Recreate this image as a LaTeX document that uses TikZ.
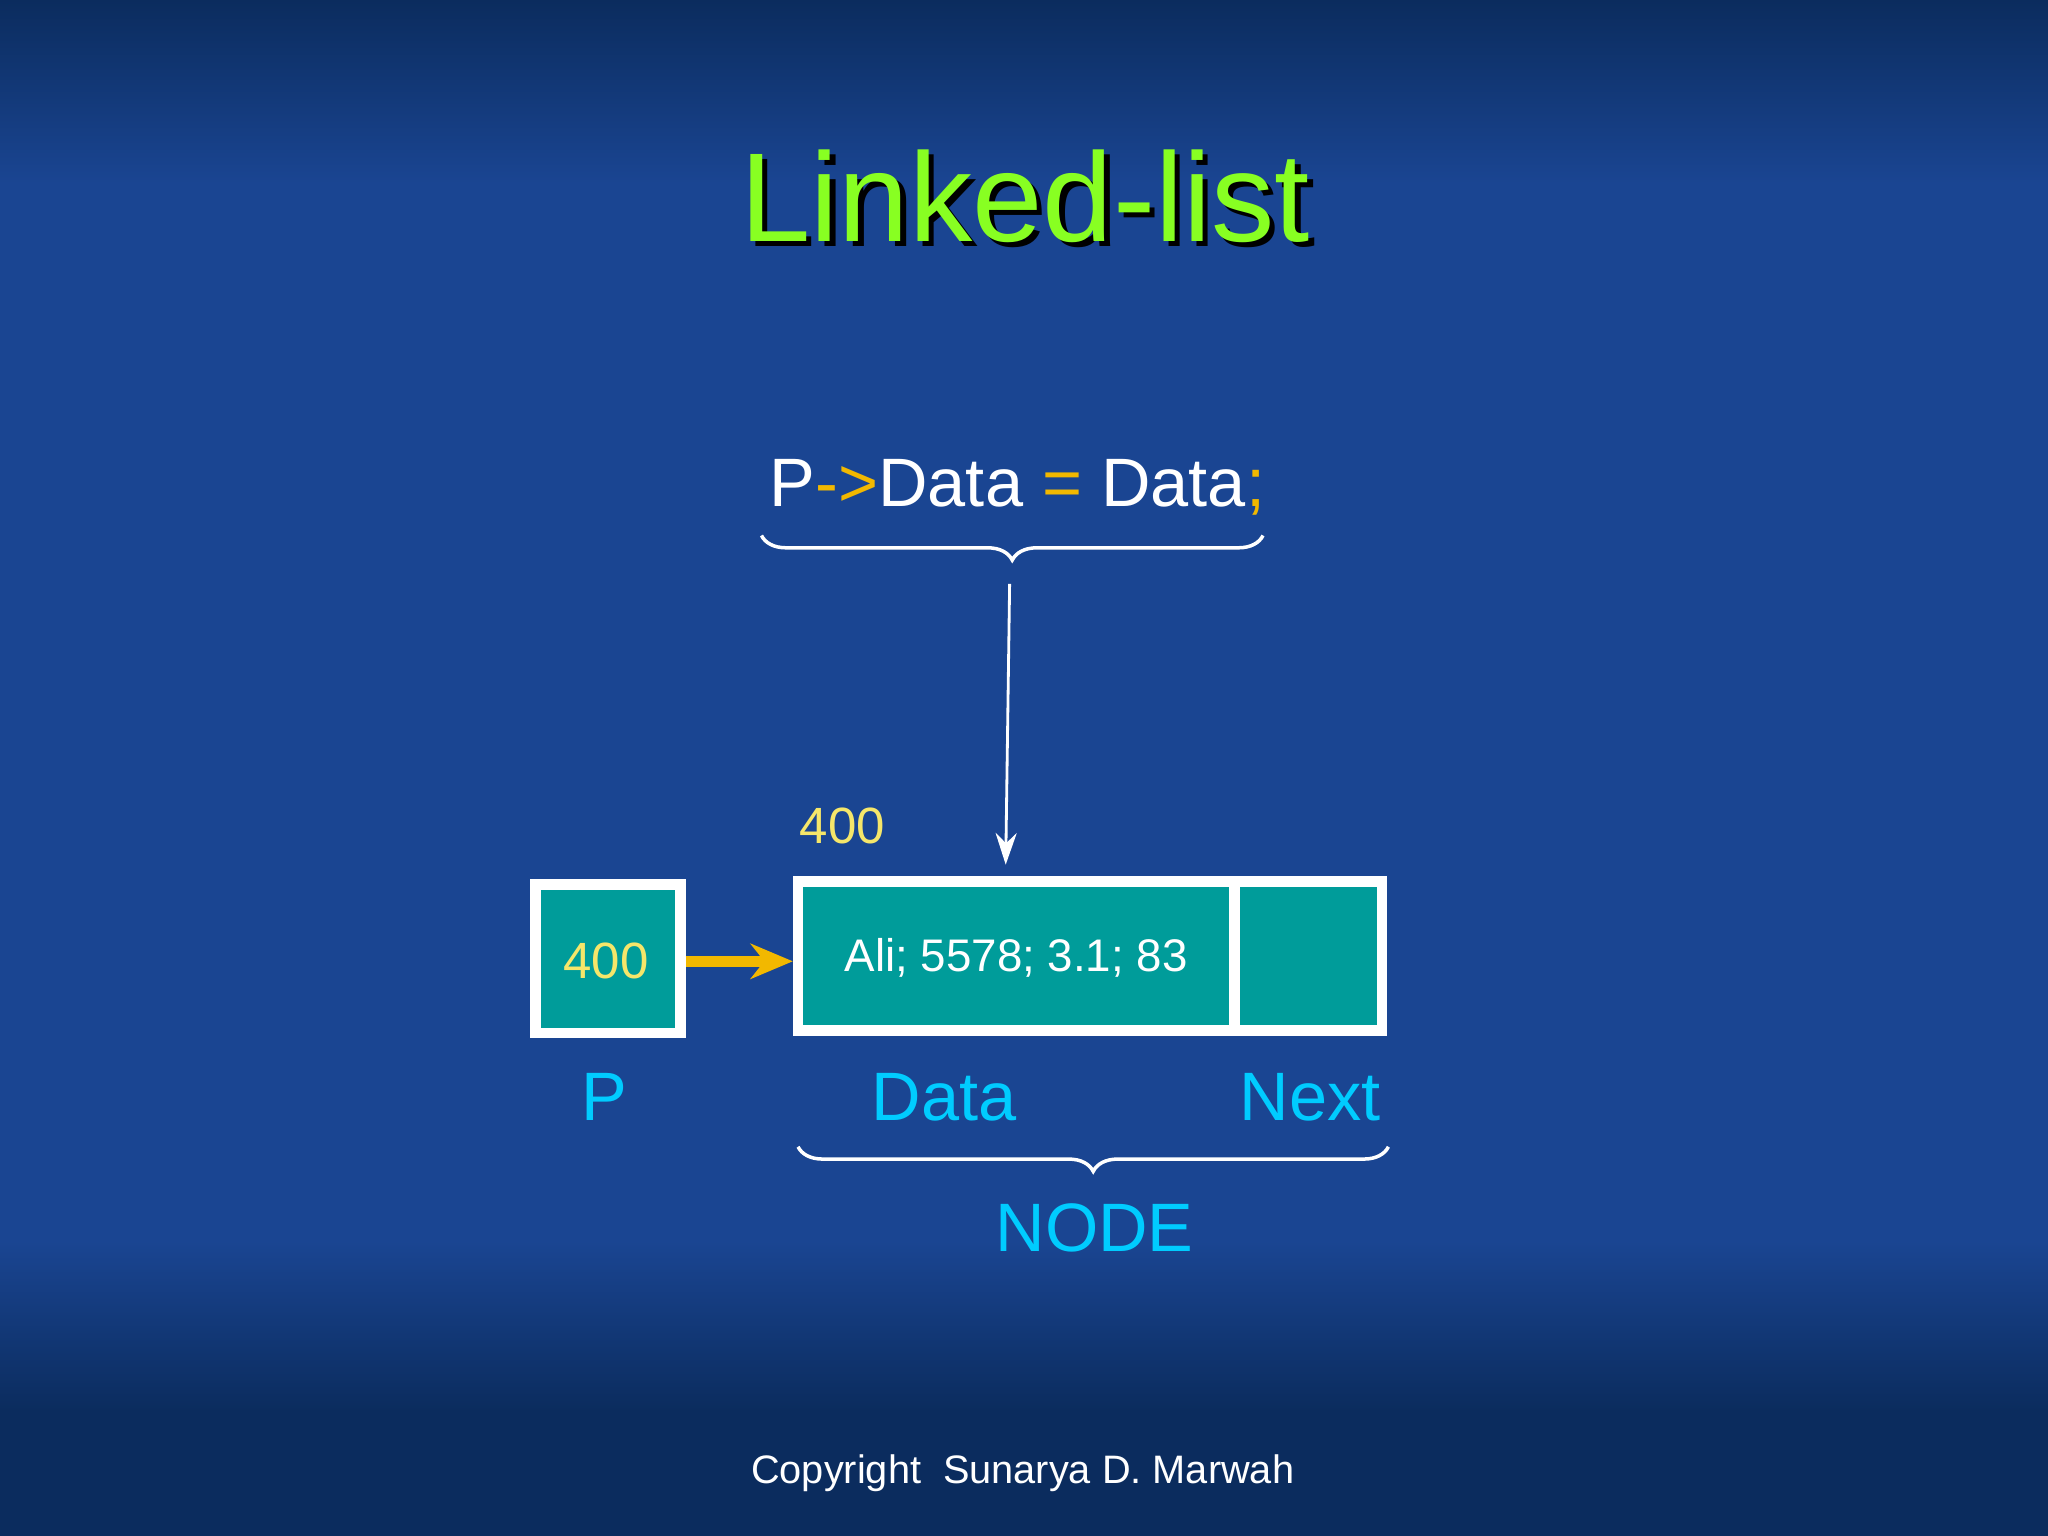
\documentclass[tikz,border=0pt]{standalone}
\usepackage{fontspec}
\setmainfont{Liberation Sans}
\usetikzlibrary{decorations.pathreplacing,arrows.meta}
\definecolor{bgmid}{HTML}{1A4592}
\definecolor{bgdark}{HTML}{0B2C5E}
\definecolor{titlegreen}{HTML}{88FF22}
\definecolor{teal}{HTML}{009C9A}
\definecolor{cyanlbl}{HTML}{00CCFF}
\definecolor{ylw}{HTML}{F5E66A}
\definecolor{arrowy}{HTML}{F2B800}
\tikzset{
  cell/.style={draw=white,line width=3pt,fill=teal},
  lbl/.style={text=cyanlbl,font=\fontsize{19.5}{22}\selectfont},
  brc/.style={draw=white,line width=1pt,decorate,decoration={brace,mirror,amplitude=7pt}}
}
\begin{document}
\begin{tikzpicture}[x=0.013061cm,y=-0.013061cm]
\useasboundingbox (0,0) rectangle (1568,1176);
\fill[bgdark] (0,0) rectangle (1568,1176);
\shade[top color=bgdark,bottom color=bgmid] (0,0) rectangle (1568,140);
\fill[bgmid] (0,139) rectangle (1568,951);
\shade[top color=bgmid,bottom color=bgdark] (0,950) rectangle (1568,1080);
% title
\node[text=black,font=\fontsize{36}{40}\selectfont] at (789,154) {Linked-list};
\node[text=titlegreen,font=\fontsize{36}{40}\selectfont] (title) at (785,150) {Linked-list};
% code
\node[text=white,font=\fontsize{19.5}{24}\selectfont] (code) at (779,373)
  {P\textcolor{arrowy}{->}Data \textcolor{arrowy}{=} Data\textcolor{arrowy}{;}};
\coordinate (b1l) at (583,410); \coordinate (b1r) at (967,410);
\draw[brc] (b1l) -- (b1r);
\coordinate (astart) at (773,447);
% boxes
\draw[cell] (410,677) rectangle (521,791);
\node[text=ylw,font=\fontsize{14.5}{18}\selectfont] (pval) at (464,736) {400};
\draw[cell] (611,675) rectangle (1058,789);
\draw[white,line width=3pt] (945,675) -- (945,789);
\coordinate (ntop) at (770,662);
\coordinate (nleft) at (607,736);
\coordinate (pright) at (525,736);
\node[text=white,font=\fontsize{13}{16}\selectfont] (data) at (778,733) {Ali; 5578; 3.1; 83};
\node[text=ylw,font=\fontsize{14.5}{18}\selectfont] (addr) at (645,632) {400};
\draw[white,line width=0.8pt,-{Stealth[length=9pt,width=6pt]}] (astart) -- (ntop);
\draw[arrowy,line width=3pt,-{Stealth[length=12pt,width=10pt]}] (pright) -- (nleft);
% labels
\node[lbl] (lp) at (463,840) {P};
\node[lbl] (ld) at (723,840) {Data};
\node[lbl] (ln) at (1003,840) {Next};
\coordinate (b2l) at (611,878); \coordinate (b2r) at (1063,878);
\draw[brc] (b2l) -- (b2r);
\node[lbl] (node) at (838,940) {NODE};
\node[text=white,font=\fontsize{11.3}{14}\selectfont] (copy) at (783,1128) {Copyright\ \ Sunarya D. Marwah};
\end{tikzpicture}
\end{document}
